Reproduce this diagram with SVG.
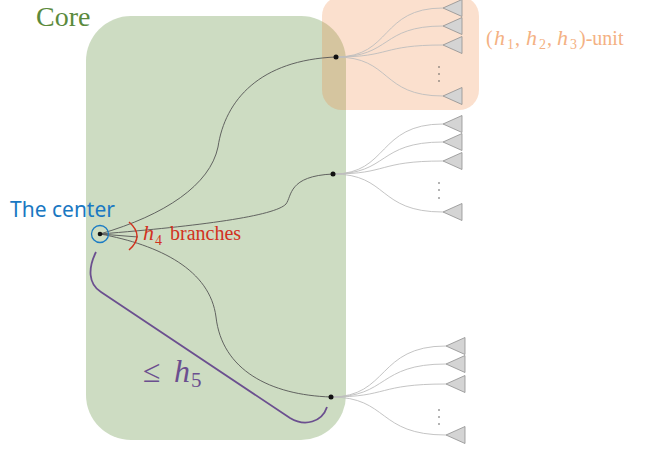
<svg xmlns="http://www.w3.org/2000/svg" xmlns:xlink="http://www.w3.org/1999/xlink" width="647" height="450" viewBox="0 0 647 450">
<style>
.main{fill:none;stroke:#555;stroke-width:0.9}
.fan{fill:none;stroke:#bdbdbd;stroke-width:0.9}
.leaf{fill:#d4d4d4;stroke:#8f8f8f;stroke-width:0.8}
.node{fill:#111}
.dot{fill:#555}
.serif{font-family:"Liberation Serif","Times New Roman",serif}
.it{font-style:italic}
</style>
<defs>
<path id="leafshape" class="leaf" d="M0,0 L19,-8.5 L19,8.5 Z"/>
</defs>
<g id="core">
<rect x="86" y="16" width="260" height="424" rx="45" ry="45" fill="#6f9a50" fill-opacity="0.35"/>
<text class="serif" x="36" y="26" font-size="28" fill="#5b8a3c">Core</text>
</g>
<g id="unit">
<rect x="322" y="-4" width="157" height="114" rx="20" ry="20" fill="#ed7d31" fill-opacity="0.24"/>
<text class="serif" y="45" font-size="20" fill="#f4b183"><tspan x="486">(</tspan><tspan x="494" class="it" font-size="22">h</tspan><tspan x="507" dy="4" font-size="14">1</tspan><tspan x="515" dy="-4">,</tspan><tspan x="526" class="it" font-size="22">h</tspan><tspan x="539" dy="4" font-size="14">2</tspan><tspan x="547" dy="-4">,</tspan><tspan x="557" class="it" font-size="22">h</tspan><tspan x="570" dy="4" font-size="14">3</tspan><tspan x="579" dy="-4">)-unit</tspan></text>
</g>
<g id="connectors">
<path class="main" d="M100,234 C165,215 210,185 218,147 C225,100 260,60 336,57"/>
<path class="main" d="M100,234 C200,226 275,216 286,204 C292,196 288,176 333,174"/>
<path class="main" d="M100,234 C160,245 210,270 216,317 C222,370 270,395 331,397"/>
<path class="main" d="M100,234 L138,237"/>
<g id="fan1">
<path class="fan" d="M336,57 C392,57 380,8 443,8"/>
<path class="fan" d="M336,57 C392,57 380,26 443,26"/>
<path class="fan" d="M336,57 C392,57 380,45 443,45"/>
<path class="fan" d="M336,57 C392,57 380,96 443,96"/>
</g>
<g id="fan2">
<path class="fan" d="M333,174 C389,174 377,124 443,124"/>
<path class="fan" d="M333,174 C389,174 377,142 443,142"/>
<path class="fan" d="M333,174 C389,174 377,161 443,161"/>
<path class="fan" d="M333,174 C389,174 377,212 443,212"/>
</g>
<g id="fan3">
<path class="fan" d="M331,397 C389,397 377,346 446,346"/>
<path class="fan" d="M331,397 C389,397 377,364 446,364"/>
<path class="fan" d="M331,397 C389,397 377,384 446,384"/>
<path class="fan" d="M331,397 C389,397 377,435 446,435"/>
</g>
</g>
<g id="center">
<circle cx="100" cy="234" r="8.5" fill="none" stroke="#1a7bc4" stroke-width="1.3"/>
<circle class="node" cx="100" cy="234" r="2.3"/>
<text x="10" y="217" font-family="'Noto Sans','DejaVu Sans',sans-serif" font-size="21" fill="#1a78c2">The center</text>
</g>
<g id="branches-label">
<path d="M129,222 Q145,236 129,250" fill="none" stroke="#d2321e" stroke-width="1.5"/>
<text class="serif" y="240" font-size="20" fill="#d2321e"><tspan x="143" class="it" font-size="22">h</tspan><tspan x="155" dy="5" font-size="14">4</tspan><tspan x="170" dy="-5">branches</tspan></text>
</g>
<g id="node1"><circle class="node" cx="336" cy="57" r="2.5"/></g>
<g id="node2"><circle class="node" cx="333" cy="174" r="2.5"/></g>
<g id="node3"><circle class="node" cx="331" cy="397" r="2.5"/></g>
<g id="leaves1">
<use xlink:href="#leafshape" x="443" y="8"/>
<use xlink:href="#leafshape" x="443" y="26"/>
<use xlink:href="#leafshape" x="443" y="45"/>
<use xlink:href="#leafshape" x="443" y="96"/>
<circle class="dot" cx="439" cy="67" r="0.8"/><circle class="dot" cx="439" cy="74" r="0.8"/><circle class="dot" cx="439" cy="81" r="0.8"/>
</g>
<g id="leaves2">
<use xlink:href="#leafshape" x="443" y="124"/>
<use xlink:href="#leafshape" x="443" y="142"/>
<use xlink:href="#leafshape" x="443" y="161"/>
<use xlink:href="#leafshape" x="443" y="212"/>
<circle class="dot" cx="439" cy="183" r="0.8"/><circle class="dot" cx="439" cy="190" r="0.8"/><circle class="dot" cx="439" cy="198" r="0.8"/>
</g>
<g id="leaves3">
<use xlink:href="#leafshape" x="446" y="346"/>
<use xlink:href="#leafshape" x="446" y="364"/>
<use xlink:href="#leafshape" x="446" y="384"/>
<use xlink:href="#leafshape" x="446" y="435"/>
<circle class="dot" cx="439" cy="410" r="0.8"/><circle class="dot" cx="439" cy="417" r="0.8"/><circle class="dot" cx="439" cy="424" r="0.8"/>
</g>
<g id="depth-label">
<path d="M96,252 C88,268 88,284 101,292 L290,418 C305,427 322,422 327,407" fill="none" stroke="#6b4f8f" stroke-width="1.8"/>
<text class="serif" y="382" font-size="30" fill="#6b4f8f"><tspan x="143" font-size="32">≤</tspan><tspan x="174" class="it" font-size="32">h</tspan><tspan x="191" dy="5" font-size="21">5</tspan></text>
</g>
</svg>
